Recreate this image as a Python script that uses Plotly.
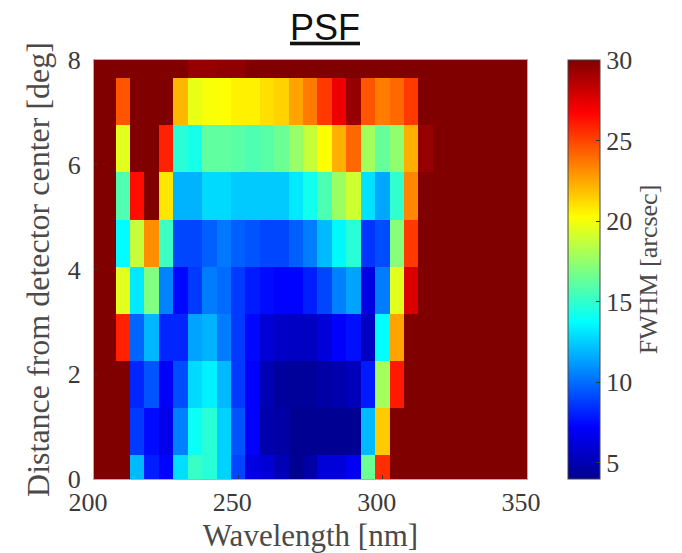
import plotly.graph_objects as go

wavelength = [200,205,210,215,220,225,230,235,240,245,250,255,260,265,270,275,280,285,290,295,300,305,310,315,320,325,330,335,340,345,350]
distance = [0, 0.9, 1.8, 2.7, 3.6, 4.5, 5.4, 6.3, 7.2, 8.1]

row_0_0 = [30,30,30,12,8,7.3,12.9,15.2,14.8,12.6,9,6.4,6,5.1,4.1,4.6,6.15,6.15,6.9,16.5,25.6,30,30,30,30,30,30,30,30,30,30]
row_0_9 = [30,30,30,8.7,7.5,6.67,10.5,14,14.8,12.6,9.4,7.2,4.85,4.6,4.1,4.1,4.1,4.1,4.1,12,21.6,30,30,30,30,30,30,30,30,30,30]
row_1_8 = [30,30,30,8.2,9.4,7.05,9.2,12.8,13.4,12,8.7,7.2,5.1,4.46,4.35,4.35,4.6,4.85,5.25,7.9,17.9,26.1,30,30,30,30,30,30,30,30,30]
row_2_7 = [30,30,25.9,9.8,11.9,8.2,8.2,11.4,11.8,10.4,8.7,7.4,6,5.6,5.5,5.5,6.15,7.2,7.6,5.5,13.8,22.6,30,30,30,30,30,30,30,30,30]
row_3_6 = [30,30,19.5,13.2,17,10.6,7.4,8.7,10.4,10,8.7,7.9,7.5,7.3,7.3,8,9,10.5,11.4,6.4,10.4,19.5,27.7,30,30,30,30,30,30,30,30]
row_4_5 = [30,30,13.7,18.8,23.1,15.3,9,9,9.7,10.3,9.7,9.4,9,9,9.7,10.4,12,13.6,14.8,8.6,9.2,17.2,25.3,30,30,30,30,30,30,30,30]
row_5_4 = [30,30,15.8,26.4,30,20.9,11.8,11.8,12.8,12.8,12.4,12.4,12.4,12.4,13.2,14.2,15.7,17.7,19,13,11.5,15,23.3,30,30,30,30,30,30,30,30]
row_6_3 = [30,30,19.5,30,30,25.9,14.8,14.3,16.2,16.2,16,15.7,16,16.5,17.6,18.8,20.2,22.3,24.1,17.9,16.3,17.4,22.3,29.4,30,30,30,30,30,30,30]
row_7_2 = [30,30,24.6,30,30,30,22.1,19.7,20.1,20.2,20.6,20.6,21.1,21.4,22.6,23.6,25.3,27.2,29.4,24.6,23.6,24.1,25.3,30,30,30,30,30,30,30,30]
row_8_1 = [30,30,30,30,30,30,30,29.4,29.4,29.6,29.6,30,30,30,30,30,30,30,30,30,30,30,30,30,30,30,30,30,30,30,30]

fwhm = [row_0_0,row_0_9,row_1_8,row_2_7,row_3_6,row_4_5,row_5_4,row_6_3,row_7_2,row_8_1]

x_ticks = [200,250,300,350]
y_ticks = [0,2,4,6,8]
cbar_ticks = [5,10,15,20,25,30]

jet = [[0,"rgb(0,0,143)"],[0.125,"rgb(0,0,255)"],[0.375,"rgb(0,255,255)"],
       [0.625,"rgb(255,255,0)"],[0.875,"rgb(255,0,0)"],[1,"rgb(128,0,0)"]]

SERIF = "Liberation Serif"
TXT = "#3a3a3a"

fig = go.Figure(go.Heatmap(
    x=wavelength, y=distance, z=fwhm, zmin=4, zmax=30, colorscale=jet, hoverongaps=False,
    colorbar=dict(
        x=1.0947, xanchor="left", xpad=0, y=0.5, yanchor="middle", len=1, lenmode="fraction",
        thickness=32, thicknessmode="pixels", ypad=0,
        tickmode="array", tickvals=cbar_ticks, ticks="inside", ticklen=4, tickcolor="#333333",
        outlinecolor="#444444", outlinewidth=1,
        tickfont=dict(family=SERIF, size=26, color=TXT),
        title=dict(text="FWHM [arcsec]", side="right", font=dict(family=SERIF, size=26, color="#4a4a4a")),
    ),
))

fig.update_layout(
    width=674, height=545, autosize=False,
    margin=dict(l=86, r=155, t=52, b=74),
    paper_bgcolor="white", plot_bgcolor="white",
    title=dict(text="<u>PSF</u>", x=317/674, xanchor="center", y=0.965, yanchor="middle",
               font=dict(family="Liberation Sans", size=36, color="#111111")),
    xaxis=dict(range=[200,350], tickmode="array", tickvals=x_ticks, ticks="inside", ticklen=4,
               automargin=False, ticklabelshift=-6,
               tickcolor="#333333", showgrid=False, zeroline=False, showline=True, mirror=True,
               linecolor="#b9a9a9", linewidth=1,
               tickfont=dict(family=SERIF, size=26, color=TXT),
               title=dict(text="Wavelength [nm]", standoff=8, font=dict(family=SERIF, size=31, color="#4a4a4a"))),
    yaxis=dict(range=[0,8], tickmode="array", tickvals=y_ticks, ticks="inside", ticklen=4,
               automargin=False, ticklabelstandoff=7,
               tickcolor="#333333", showgrid=False, zeroline=False, showline=True, mirror=True,
               linecolor="#b9a9a9", linewidth=1,
               tickfont=dict(family=SERIF, size=26, color=TXT),
               title=dict(text="Distance from detector center [deg]", standoff=8,
                          font=dict(family=SERIF, size=32, color="#4a4a4a"))),
)

fig.write_html("out.html")
